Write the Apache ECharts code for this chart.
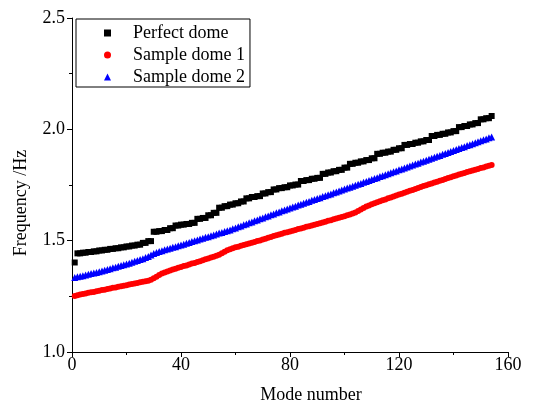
<!DOCTYPE html>
<html>
<head>
<meta charset="utf-8">
<script src="https://cdn.jsdelivr.net/npm/echarts@6/dist/echarts.min.js"></script>
<style>html,body{margin:0;padding:0;background:#fff;}#c{width:537px;height:405px;}</style>
</head>
<body>
<div id="c"></div>
<script>
var seriesNames = ['Perfect dome', 'Sample dome 1', 'Sample dome 2'];
var xTicks = [0, 40, 80, 120, 160];
var yTicks = [1.0, 1.5, 2.0, 2.5];

var perfectDome = [
1.402,1.443,1.443,1.446,1.446,1.449,1.449,1.452,1.452,1.456,
1.456,1.459,1.459,1.463,1.463,1.466,1.466,1.470,1.470,1.474,
1.474,1.478,1.478,1.482,1.482,1.490,1.490,1.498,1.498,1.540,
1.540,1.543,1.543,1.548,1.548,1.556,1.556,1.568,1.568,1.572,
1.572,1.575,1.575,1.580,1.580,1.598,1.598,1.602,1.602,1.614,
1.614,1.625,1.625,1.648,1.648,1.655,1.655,1.662,1.662,1.668,
1.668,1.676,1.676,1.690,1.690,1.696,1.696,1.700,1.700,1.712,
1.712,1.718,1.718,1.730,1.730,1.736,1.736,1.740,1.740,1.748,
1.748,1.752,1.752,1.768,1.768,1.772,1.772,1.778,1.778,1.782,
1.782,1.800,1.800,1.806,1.806,1.812,1.812,1.818,1.818,1.828,
1.828,1.845,1.845,1.850,1.850,1.856,1.856,1.862,1.862,1.870,
1.870,1.890,1.890,1.895,1.895,1.900,1.900,1.908,1.908,1.915,
1.915,1.930,1.930,1.934,1.934,1.940,1.940,1.946,1.946,1.952,
1.952,1.970,1.970,1.975,1.975,1.980,1.980,1.986,1.986,1.992,
1.992,2.010,2.010,2.015,2.015,2.022,2.022,2.028,2.028,2.045,
2.045,2.050,2.050,2.060
];

var sampleDome1 = [
1.252,1.255,1.258,1.260,1.263,1.266,1.268,1.270,1.273,1.275,
1.278,1.280,1.283,1.285,1.288,1.290,1.293,1.295,1.298,1.300,
1.303,1.305,1.308,1.310,1.313,1.316,1.318,1.320,1.325,1.331,
1.338,1.346,1.352,1.357,1.362,1.366,1.370,1.374,1.378,1.382,
1.386,1.389,1.393,1.397,1.400,1.404,1.408,1.412,1.416,1.420,
1.424,1.428,1.432,1.437,1.443,1.450,1.457,1.462,1.466,1.470,
1.473,1.477,1.480,1.484,1.487,1.491,1.494,1.498,1.501,1.505,
1.509,1.513,1.517,1.521,1.524,1.528,1.531,1.535,1.538,1.541,
1.545,1.548,1.552,1.555,1.558,1.562,1.565,1.568,1.572,1.575,
1.578,1.582,1.585,1.589,1.592,1.596,1.599,1.603,1.606,1.610,
1.614,1.618,1.622,1.627,1.633,1.640,1.647,1.653,1.658,1.663,
1.668,1.673,1.677,1.681,1.685,1.690,1.694,1.698,1.703,1.707,
1.711,1.715,1.720,1.724,1.728,1.732,1.736,1.741,1.745,1.749,
1.753,1.757,1.761,1.765,1.769,1.773,1.777,1.781,1.785,1.789,
1.793,1.797,1.800,1.804,1.808,1.812,1.815,1.819,1.822,1.826,
1.829,1.833,1.836,1.840
];

var sampleDome2 = [
1.335,1.338,1.340,1.343,1.346,1.349,1.352,1.355,1.357,1.360,
1.364,1.367,1.371,1.374,1.378,1.381,1.385,1.388,1.392,1.395,
1.399,1.403,1.407,1.411,1.415,1.419,1.424,1.429,1.436,1.442,
1.447,1.451,1.455,1.459,1.463,1.466,1.470,1.473,1.477,1.480,
1.484,1.488,1.492,1.496,1.500,1.503,1.507,1.511,1.515,1.518,
1.522,1.526,1.530,1.534,1.537,1.541,1.545,1.548,1.553,1.557,
1.562,1.566,1.571,1.575,1.580,1.584,1.589,1.593,1.598,1.602,
1.607,1.611,1.616,1.620,1.625,1.629,1.634,1.638,1.642,1.647,
1.651,1.655,1.660,1.664,1.668,1.672,1.676,1.681,1.685,1.689,
1.693,1.698,1.702,1.706,1.710,1.715,1.719,1.723,1.727,1.732,
1.736,1.740,1.744,1.749,1.753,1.757,1.762,1.766,1.770,1.775,
1.779,1.783,1.788,1.792,1.796,1.800,1.805,1.809,1.813,1.818,
1.822,1.826,1.831,1.835,1.840,1.844,1.848,1.853,1.857,1.861,
1.866,1.870,1.875,1.879,1.883,1.888,1.892,1.896,1.901,1.905,
1.909,1.914,1.918,1.922,1.927,1.931,1.935,1.940,1.944,1.949,
1.953,1.957,1.962,1.966
];

function pairs(vals) {
  return vals.map(function (v, i) { return [i + 1, v]; });
}

var FONT = "'Liberation Serif', 'Times New Roman', serif";
var chart = echarts.init(document.getElementById('c'), null, { renderer: 'canvas' });
chart.setOption({
  animation: false,
  backgroundColor: '#fff',
  textStyle: { fontFamily: FONT, color: '#000' },
  grid: { left: 72, right: 29, top: 18, bottom: 53, containLabel: false, outerBoundsMode: 'none' },
  legend: {
    orient: 'vertical',
    left: 76, top: 19,
    borderColor: '#000', borderWidth: 1,
    padding: [5, 5, 1, 28],
    itemGap: 4,
    itemWidth: 7, itemHeight: 7,
    textStyle: { fontFamily: FONT, fontSize: 18, color: '#000', padding: [0, 0, 0, 17] },
    data: [
      { name: seriesNames[0], icon: 'rect' },
      { name: seriesNames[1], icon: 'circle' },
      { name: seriesNames[2], icon: 'triangle' }
    ]
  },
  xAxis: {
    type: 'value', min: xTicks[0], max: xTicks[xTicks.length - 1], interval: 40,
    name: 'Mode number', nameLocation: 'middle', nameGap: 34,
    nameTextStyle: { fontFamily: FONT, fontSize: 18, color: '#000', padding: [0, 0, 0, 42] },
    axisLine: { onZero: false, lineStyle: { color: '#000', width: 1 } },
    axisTick: { show: true, inside: false, length: 5, lineStyle: { color: '#000' } },
    minorTick: { show: true, splitNumber: 2, length: 3, lineStyle: { color: '#000' } },
    splitLine: { show: false },
    axisLabel: { fontFamily: FONT, fontSize: 18, color: '#000', margin: 4 }
  },
  yAxis: {
    type: 'value', min: yTicks[0], max: yTicks[yTicks.length - 1], interval: 0.5,
    name: 'Frequency /Hz', nameLocation: 'middle', nameGap: 42,
    nameTextStyle: { fontFamily: FONT, fontSize: 18, color: '#000', padding: [0, 36, 0, 0] },
    axisLine: { show: true, lineStyle: { color: '#000', width: 1 } },
    axisTick: { show: true, inside: false, length: 5, lineStyle: { color: '#000' } },
    minorTick: { show: true, splitNumber: 2, length: 3, lineStyle: { color: '#000' } },
    splitLine: { show: false },
    axisLabel: { fontFamily: FONT, fontSize: 18, color: '#000', margin: 7,
      formatter: function (v) { return v.toFixed(1); } }
  },
  series: [
    { name: seriesNames[0], type: 'scatter', symbol: 'rect', symbolSize: 6,
      itemStyle: { color: '#000000', opacity: 1 }, data: pairs(perfectDome) },
    { name: seriesNames[1], type: 'scatter', symbol: 'circle', symbolSize: 6,
      itemStyle: { color: '#ff0000', opacity: 1 }, data: pairs(sampleDome1) },
    { name: seriesNames[2], type: 'scatter', symbol: 'triangle', symbolSize: 7,
      itemStyle: { color: '#0000ff', opacity: 1 }, data: pairs(sampleDome2) }
  ]
});
</script>
</body>
</html>
